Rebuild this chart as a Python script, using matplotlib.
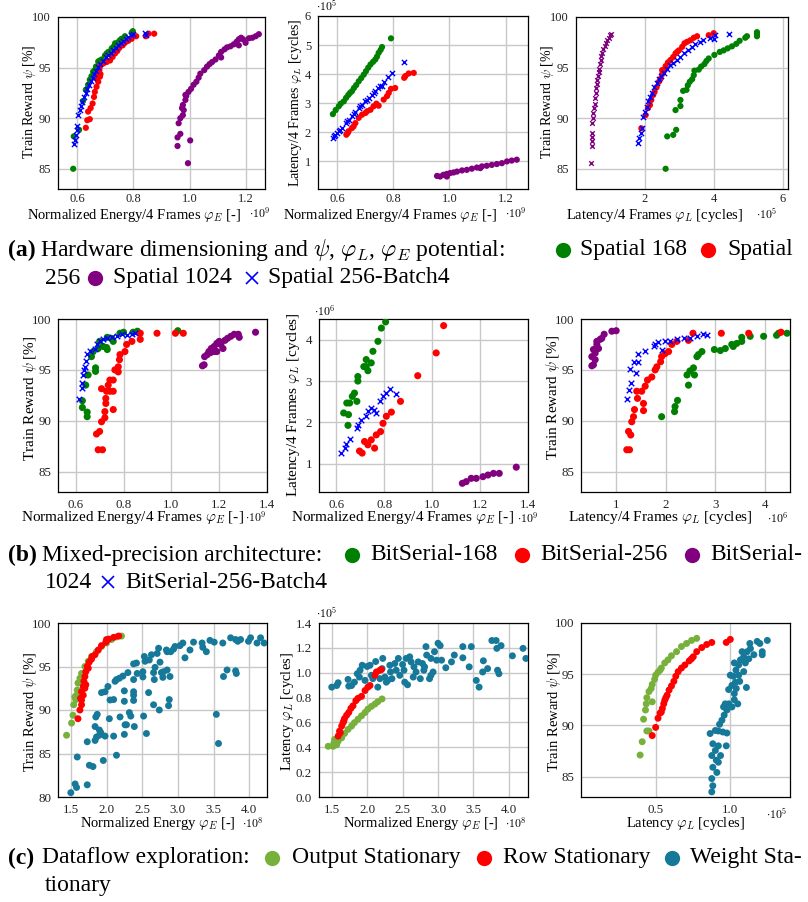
import matplotlib
matplotlib.use("Agg")
import matplotlib.pyplot as plt
from matplotlib.lines import Line2D
from matplotlib.ticker import FormatStrFormatter

plt.rcParams["font.family"] = ["Liberation Serif", "DejaVu Serif"]
plt.rcParams["mathtext.fontset"] = "cm"

W, H = 808, 902

# ---------------- (a) hardware dimensioning ----------------
# reward [%] vs normalized energy [1e9]
A1_S168 = [(0.586, 85.0), (0.588, 88.2), (0.607, 88.85), (0.621, 91.7), (0.631, 92.8), (0.639, 93.3),
           (0.645, 93.8), (0.651, 94.15), (0.657, 94.6), (0.663, 94.75), (0.667, 95.1), (0.675, 95.6),
           (0.681, 95.7), (0.687, 95.8), (0.699, 96.2), (0.705, 96.4), (0.711, 96.55), (0.723, 96.9),
           (0.729, 97.05), (0.735, 97.4), (0.746, 97.5), (0.752, 97.7), (0.758, 97.85), (0.77, 98.1),
           (0.794, 98.45), (0.798, 98.6)]
A1_S256 = [(0.631, 89.05), (0.636, 89.8), (0.645, 89.9), (0.639, 90.65), (0.648, 91.0), (0.655, 91.45),
           (0.66, 92.1), (0.663, 92.6), (0.669, 93.1), (0.675, 93.6), (0.669, 93.9), (0.681, 94.1),
           (0.673, 94.35), (0.683, 94.35), (0.679, 94.75), (0.681, 95.1), (0.693, 95.4), (0.705, 95.55),
           (0.717, 95.7), (0.726, 96.05), (0.735, 96.4), (0.743, 96.65), (0.75, 96.95), (0.762, 97.2),
           (0.77, 97.45), (0.782, 97.65), (0.794, 97.85), (0.81, 98.1), (0.844, 98.1), (0.854, 98.35),
           (0.874, 98.35)]
A1_S1024 = [(0.994, 85.55), (0.957, 87.25), (1.002, 87.8), (0.957, 88.1), (0.967, 88.45), (0.961, 89.5),
            (0.967, 90.0), (0.976, 90.3), (0.979, 90.8), (0.973, 91.0), (0.976, 91.3), (0.985, 91.8),
            (0.988, 92.2), (0.985, 92.3), (0.996, 92.6), (1.005, 92.9), (1.014, 93.3), (1.024, 93.6),
            (1.032, 94.0), (1.038, 94.4), (1.052, 94.75), (1.062, 95.1), (1.071, 95.35), (1.08, 95.55),
            (1.092, 95.8), (1.112, 96.0), (1.104, 96.2), (1.112, 96.55), (1.124, 96.8), (1.133, 97.0),
            (1.145, 97.1), (1.157, 97.3), (1.175, 97.2), (1.167, 97.55), (1.175, 97.8), (1.183, 97.95),
            (1.19, 97.8), (1.199, 97.45), (1.211, 97.9), (1.223, 97.95), (1.235, 98.1), (1.246, 98.3)]
A1_B4 = [(0.588, 87.45), (0.592, 87.85), (0.595, 88.35), (0.6, 88.85), (0.598, 89.2), (0.604, 90.3),
         (0.61, 90.8), (0.615, 91.2), (0.619, 91.6), (0.624, 92.05), (0.631, 92.45), (0.636, 92.85),
         (0.643, 93.25), (0.648, 93.7), (0.655, 94.0), (0.66, 94.35), (0.667, 94.7), (0.675, 95.1),
         (0.683, 95.35), (0.693, 95.65), (0.702, 96.0), (0.711, 96.2), (0.719, 96.45), (0.729, 96.7),
         (0.738, 96.95), (0.746, 97.2), (0.755, 97.45), (0.764, 97.65), (0.774, 97.85), (0.782, 98.05),
         (0.79, 98.2), (0.798, 98.35), (0.842, 98.4), (0.845, 98.2)]

# latency [1e5 cycles] vs normalized energy [1e9]
A2_S168 = [(0.585, 2.62), (0.595, 2.76), (0.606, 2.89), (0.613, 2.98), (0.624, 3.06), (0.632, 3.18),
           (0.64, 3.28), (0.646, 3.35), (0.653, 3.41), (0.66, 3.52), (0.668, 3.62), (0.677, 3.75),
           (0.686, 3.86), (0.695, 3.98), (0.703, 4.1), (0.711, 4.22), (0.719, 4.33), (0.728, 4.42),
           (0.736, 4.5), (0.742, 4.6), (0.748, 4.73), (0.755, 4.83), (0.76, 4.93), (0.792, 5.23)]
A2_S256 = [(0.633, 1.91), (0.638, 1.97), (0.641, 2.03), (0.653, 2.14), (0.659, 2.2), (0.665, 2.31),
           (0.677, 2.49), (0.689, 2.6), (0.701, 2.66), (0.707, 2.72), (0.719, 2.77), (0.73, 2.89),
           (0.74, 2.98), (0.748, 2.91), (0.766, 3.12), (0.778, 3.24), (0.784, 3.35), (0.792, 3.49),
           (0.807, 3.52), (0.839, 3.87), (0.843, 3.93), (0.855, 4.02), (0.873, 4.04)]
A2_S1024 = [(0.956, 0.49), (0.967, 0.47), (0.979, 0.53), (0.991, 0.47), (0.991, 0.56), (1.003, 0.59),
            (1.015, 0.61), (1.027, 0.64), (1.045, 0.68), (1.062, 0.7), (1.08, 0.74), (1.098, 0.78),
            (1.11, 0.76), (1.116, 0.82), (1.133, 0.84), (1.151, 0.87), (1.169, 0.9), (1.187, 0.93),
            (1.205, 0.99), (1.222, 1.02), (1.24, 1.05)]
A2_B4 = [(0.586, 1.79), (0.588, 1.85), (0.594, 1.91), (0.6, 1.97), (0.606, 2.03), (0.612, 2.08),
         (0.618, 2.14), (0.63, 2.31), (0.636, 2.37), (0.641, 2.43), (0.653, 2.57), (0.659, 2.62),
         (0.665, 2.68), (0.677, 2.83), (0.683, 2.89), (0.689, 2.95), (0.701, 3.06), (0.707, 3.12),
         (0.713, 3.18), (0.724, 3.29), (0.73, 3.35), (0.736, 3.41), (0.745, 3.52), (0.754, 3.6),
         (0.76, 3.58), (0.766, 3.72), (0.78, 3.9), (0.796, 4.02), (0.837, 4.42)]

# reward [%] vs latency [1e5 cycles]
A3_S168 = [(2.6, 85.0), (2.646, 88.2), (2.82, 88.35), (2.906, 88.85), (2.887, 90.8), (3.03, 91.2),
           (3.03, 91.8), (3.108, 92.7), (3.205, 92.8), (3.243, 93.25), (3.3, 93.6), (3.37, 93.85),
           (3.417, 94.25), (3.436, 94.7), (3.56, 94.8), (3.63, 95.1), (3.725, 95.35), (3.783, 95.65),
           (3.85, 95.9), (4.014, 96.25), (4.17, 96.55), (4.284, 96.7), (4.4, 96.9), (4.525, 97.1),
           (4.65, 97.35), (4.747, 97.65), (4.91, 97.95), (4.96, 98.1), (5.25, 98.1), (5.25, 98.35),
           (5.25, 98.5)]
A3_S256 = [(1.894, 89.0), (2.02, 90.3), (2.087, 91.0), (2.145, 91.3), (2.183, 91.8), (2.24, 92.3),
           (2.28, 92.6), (2.337, 93.05), (2.405, 93.6), (2.453, 93.9), (2.5, 94.35), (2.5, 94.75),
           (2.55, 94.75), (2.6, 95.15), (2.665, 95.5), (2.74, 95.75), (2.82, 96.05), (2.887, 96.4),
           (2.935, 96.55), (2.983, 96.7), (3.08, 97.05), (3.147, 97.4), (3.224, 97.55), (3.32, 97.7),
           (3.417, 97.95), (3.513, 98.1), (3.85, 98.2), (3.995, 98.4)]
A3_S1024 = [(0.43, 85.55), (0.458, 87.25), (0.477, 87.7), (0.458, 88.1), (0.477, 88.5), (0.477, 89.55),
            (0.496, 90.0), (0.506, 90.5), (0.525, 91.0), (0.545, 91.45), (0.554, 91.95), (0.573, 92.45),
            (0.593, 92.95), (0.602, 93.35), (0.622, 93.75), (0.641, 94.15), (0.66, 94.6), (0.68, 94.9),
            (0.699, 95.35), (0.718, 95.75), (0.737, 96.15), (0.766, 96.45), (0.795, 96.8), (0.834, 97.1),
            (0.872, 97.45), (0.911, 97.7), (0.949, 97.95), (0.988, 98.2), (1.007, 98.35)]
A3_B4 = [(1.8, 87.5), (1.83, 88.0), (1.875, 88.5), (1.92, 89.0), (1.95, 90.15), (1.99, 90.65),
         (2.05, 91.15), (2.087, 91.65), (2.145, 92.05), (2.212, 92.5), (2.26, 93.05), (2.337, 93.45),
         (2.405, 93.85), (2.472, 94.15), (2.55, 94.5), (2.627, 94.9), (2.723, 95.25), (2.82, 95.45),
         (2.935, 95.75), (3.03, 96.05), (3.128, 96.4), (3.243, 96.7), (3.369, 97.05), (3.465, 97.3),
         (3.59, 97.55), (3.687, 97.75), (3.9, 97.95), (4.0, 97.85), (4.024, 98.2), (4.43, 98.35)]

# ---------------- (b) mixed-precision architecture ----------------
B1_BS168 = [(0.628, 91.97), (0.628, 91.3), (0.648, 90.85), (0.648, 90.4), (0.642, 93.5), (0.652, 94.5),
            (0.683, 94.85), (0.683, 95.2), (0.666, 96.3), (0.673, 96.8), (0.694, 97.1), (0.70, 97.8),
            (0.715, 97.3), (0.729, 97.2), (0.732, 97.0), (0.732, 98.2), (0.75, 98.1), (0.757, 97.8),
            (0.785, 98.6), (0.8, 98.7), (0.84, 98.7), (0.858, 98.8), (1.027, 98.85)]
B1_BS256 = [(0.694, 87.15), (0.712, 87.15), (0.687, 88.7), (0.70, 88.95), (0.708, 89.9), (0.722, 90.3),
            (0.722, 90.9), (0.757, 91.1), (0.726, 91.7), (0.726, 92.2), (0.708, 93.15), (0.729, 92.9),
            (0.743, 92.9), (0.757, 92.9), (0.736, 93.5), (0.743, 94.0), (0.757, 94.0), (0.764, 95.0),
            (0.778, 94.8), (0.778, 95.3), (0.783, 96.0), (0.785, 96.5), (0.806, 96.8), (0.813, 97.5),
            (0.835, 97.8), (0.87, 98.0), (0.87, 98.6), (0.94, 98.6), (1.017, 98.6), (1.05, 98.6)]
B1_BS1024 = [(1.13, 95.4), (1.137, 95.5), (1.139, 96.3), (1.15, 96.5), (1.157, 96.8), (1.164, 96.7),
             (1.167, 97.1), (1.179, 96.8), (1.19, 96.8), (1.179, 97.3), (1.19, 97.6), (1.2, 97.8),
             (1.207, 97.5), (1.216, 97.1), (1.224, 97.9), (1.235, 98.1), (1.249, 98.3), (1.263, 98.5),
             (1.28, 98.5), (1.284, 98.2), (1.352, 98.7)]
B1_BS256B4 = [(0.614, 92.1), (0.628, 93.2), (0.628, 93.7), (0.631, 94.5), (0.634, 95.0), (0.638, 95.3),
              (0.642, 95.9), (0.648, 96.6), (0.659, 96.9), (0.68, 97.1), (0.687, 97.5), (0.70, 97.8),
              (0.715, 98.0), (0.729, 98.1), (0.75, 98.2), (0.771, 98.3), (0.792, 98.5), (0.813, 98.4),
              (0.835, 98.5), (0.85, 98.6)]

B2_BS168 = [(0.649, 1.93), (0.651, 2.19), (0.631, 2.23), (0.644, 2.47), (0.656, 2.47), (0.667, 2.63),
            (0.676, 2.71), (0.686, 2.51), (0.69, 3.0), (0.69, 3.11), (0.715, 3.35), (0.725, 3.35),
            (0.725, 3.52), (0.732, 3.25), (0.746, 3.44), (0.753, 3.72), (0.774, 3.96), (0.788, 4.28),
            (0.806, 4.43)]
B2_BS256 = [(0.708, 1.26), (0.697, 1.31), (0.718, 1.54), (0.732, 1.46), (0.746, 1.58), (0.76, 1.38),
            (0.767, 1.70), (0.785, 1.78), (0.795, 1.98), (0.809, 2.15), (0.83, 2.25), (0.868, 2.51),
            (0.94, 3.13), (1.017, 3.68), (1.048, 4.34)]
B2_BS1024 = [(1.126, 0.53), (1.142, 0.57), (1.163, 0.65), (1.184, 0.65), (1.212, 0.69), (1.233, 0.73),
             (1.256, 0.77), (1.28, 0.77), (1.351, 0.92)]
B2_BS256B4 = [(0.621, 1.26), (0.635, 1.38), (0.642, 1.48), (0.656, 1.6), (0.686, 1.86), (0.69, 1.94),
              (0.704, 2.06), (0.725, 2.15), (0.732, 2.27), (0.746, 2.36), (0.756, 2.31), (0.764, 2.23),
              (0.781, 2.52), (0.795, 2.63), (0.809, 2.71), (0.825, 2.81), (0.85, 2.69)]

B3_BS168 = [(1.92, 90.4), (2.18, 90.9), (2.19, 91.4), (2.24, 92.0), (2.46, 93.5), (2.43, 94.5),
            (2.49, 94.9), (2.56, 95.2), (2.58, 94.5), (2.63, 96.3), (2.66, 96.5), (2.73, 96.8),
            (2.98, 97.0), (3.1, 96.9), (3.2, 97.1), (3.36, 97.3), (3.33, 97.5), (3.43, 97.6),
            (3.53, 97.8), (3.53, 98.2), (3.7, 98.3), (3.97, 98.3), (4.23, 98.4), (4.27, 98.6),
            (4.44, 98.6)]
B3_BS256 = [(1.22, 87.15), (1.275, 87.15), (1.255, 88.95), (1.3, 88.6), (1.32, 89.9), (1.355, 90.4),
            (1.375, 91.1), (1.435, 92.2), (1.42, 92.9), (1.52, 92.9), (1.556, 91.7), (1.556, 91.0),
            (1.59, 93.4), (1.636, 94.0), (1.723, 94.3), (1.79, 95.0), (1.824, 95.3), (1.9, 95.8),
            (1.92, 96.3), (1.99, 96.6), (2.06, 96.8), (2.125, 97.5), (2.226, 97.8), (2.46, 97.9),
            (2.55, 98.6), (3.12, 98.6), (3.67, 98.6), (4.32, 98.7)]
B3_BS1024 = [(0.518, 95.4), (0.55, 95.5), (0.518, 96.3), (0.585, 96.0), (0.55, 97.0), (0.585, 96.65),
             (0.618, 97.5), (0.618, 97.8), (0.652, 97.1), (0.685, 98.0), (0.718, 98.1), (0.765, 98.5),
             (0.92, 98.8), (1.007, 98.85)]
B3_BS256B4 = [(1.22, 92.1), (1.255, 93.0), (1.31, 93.7), (1.275, 95.1), (1.41, 94.7), (1.375, 95.8),
              (1.455, 95.8), (1.455, 96.6), (1.59, 96.9), (1.757, 97.3), (1.79, 97.5), (1.857, 97.7),
              (1.92, 97.0), (1.99, 97.8), (2.09, 97.8), (2.226, 98.0), (2.36, 98.1), (2.49, 98.1),
              (2.63, 98.3), (2.76, 98.5), (2.83, 98.4)]

# ---------------- (c) dataflow exploration ----------------
C1_OS = [(1.44, 87.1), (1.51, 88.5), (1.53, 89.4), (1.54, 90.6), (1.57, 91.2), (1.556, 91.5),
         (1.58, 91.7), (1.59, 92.3), (1.6, 93.1), (1.627, 93.65), (1.65, 94.2), (1.697, 95.0),
         (1.744, 95.6), (1.79, 96.15), (1.86, 96.7), (1.93, 97.3), (2.0, 97.7), (2.07, 98.1),
         (2.14, 98.4), (2.21, 98.5)]
C1_RS = [(1.6, 89.0), (1.627, 90.0), (1.65, 90.6), (1.65, 91.15), (1.636, 91.35), (1.674, 91.7),
         (1.65, 92.1), (1.697, 92.5), (1.674, 92.7), (1.71, 92.9), (1.683, 93.3), (1.697, 93.85),
         (1.71, 94.4), (1.744, 94.8), (1.73, 95.0), (1.758, 95.5), (1.79, 95.85), (1.80, 96.15),
         (1.838, 96.35), (1.885, 96.9), (1.93, 97.4), (1.99, 97.8), (2.0, 98.1), (2.03, 98.15),
         (2.1, 98.35), (2.17, 98.5)]
C1_WS = [(1.5, 80.5), (1.56, 81.5), (1.58, 81.1), (1.59, 84.6), (1.73, 81.4), (1.76, 83.65),
         (1.81, 83.5), (1.73, 86.35), (1.84, 86.5), (1.86, 86.9), (1.9, 87.1), (1.84, 88.1),
         (1.85, 89.2), (1.87, 89.5), (1.9, 87.7), (1.92, 87.4), (1.955, 84.2), (1.98, 87.0),
         (1.93, 92.0), (1.98, 92.1), (2.02, 92.7), (2.05, 91.15), (2.04, 89.0), (2.1, 87.0),
         (2.1, 91.2), (2.12, 93.3), (2.14, 93.5), (2.14, 84.8), (2.18, 93.65), (2.19, 89.2),
         (2.23, 93.9), (2.25, 91.0), (2.25, 92.2), (2.25, 87.2), (2.26, 88.3), (2.28, 88.3),
         (2.3, 94.3), (2.32, 89.7), (2.34, 89.3), (2.38, 95.3), (2.38, 93.5), (2.38, 92.1),
         (2.38, 91.7), (2.38, 91.1), (2.39, 88.1), (2.42, 95.4), (2.43, 94.2), (2.51, 94.4),
         (2.51, 93.8), (2.52, 89.3), (2.53, 96.15), (2.54, 95.6), (2.56, 87.3), (2.59, 92.0),
         (2.6, 95.75), (2.63, 96.35), (2.66, 94.3), (2.66, 90.6), (2.67, 93.5), (2.68, 94.9),
         (2.71, 96.5), (2.73, 97.1), (2.74, 90.0), (2.75, 95.5), (2.77, 94.3), (2.79, 93.75),
         (2.8, 94.4), (2.84, 96.9), (2.85, 96.7), (2.85, 94.6), (2.87, 90.5), (2.88, 91.2),
         (2.89, 93.85), (2.9, 96.7), (2.94, 97.0), (2.96, 97.3), (3.03, 97.4), (3.07, 97.7),
         (3.1, 96.0), (3.17, 96.9), (3.22, 97.8), (3.34, 97.7), (3.35, 97.2), (3.4, 96.7),
         (3.45, 98.0), (3.51, 97.8), (3.54, 89.5), (3.57, 86.15), (3.63, 97.7), (3.64, 93.85),
         (3.69, 94.6), (3.74, 98.3), (3.81, 98.1), (3.81, 94.5), (3.82, 94.2), (3.84, 97.9),
         (3.88, 98.1), (3.99, 97.9), (4.02, 98.3), (4.11, 97.7), (4.16, 98.3), (4.21, 97.7)]

C2_OS = [(1.45, 0.408), (1.52, 0.408), (1.53, 0.435), (1.54, 0.463), (1.57, 0.42), (1.59, 0.449),
         (1.64, 0.476), (1.68, 0.511), (1.73, 0.544), (1.78, 0.571), (1.82, 0.598), (1.87, 0.626),
         (1.92, 0.653), (1.97, 0.68), (2.01, 0.707), (2.06, 0.729), (2.11, 0.748), (2.15, 0.767),
         (2.21, 0.789)]
C2_RS = [(1.59, 0.49), (1.61, 0.53), (1.62, 0.517), (1.64, 0.571), (1.66, 0.598), (1.67, 0.612),
         (1.68, 0.631), (1.71, 0.658), (1.74, 0.68), (1.77, 0.713), (1.8, 0.734), (1.84, 0.775),
         (1.87, 0.794), (1.92, 0.81), (1.97, 0.857), (2.01, 0.884), (2.04, 0.897), (2.11, 0.979),
         (2.13, 1.006), (2.18, 1.02), (2.2, 1.025)]
C2_WS = [(1.5, 0.884), (1.57, 0.897), (1.59, 0.919), (1.73, 0.946), (1.74, 0.892), (1.78, 0.897),
         (1.82, 0.924), (1.86, 0.992), (1.89, 0.965), (1.9, 1.02), (1.93, 1.06), (1.97, 0.938),
         (2.0, 1.05), (2.04, 1.06), (2.06, 0.979), (2.08, 0.952), (2.12, 1.09), (2.15, 0.884),
         (2.18, 0.952), (2.21, 1.033), (2.22, 1.115), (2.25, 0.965), (2.27, 0.924), (2.29, 0.938),
         (2.32, 1.06), (2.33, 1.006), (2.35, 0.952), (2.39, 1.074), (2.41, 1.02), (2.44, 1.115),
         (2.46, 0.979), (2.5, 1.066), (2.52, 1.02), (2.53, 0.924), (2.55, 1.115), (2.57, 0.903),
         (2.6, 1.128), (2.62, 1.087), (2.65, 0.965), (2.66, 1.047), (2.69, 1.006), (2.72, 1.087),
         (2.75, 0.952), (2.78, 1.074), (2.8, 1.02), (2.81, 1.047), (2.83, 1.21), (2.84, 1.142),
         (2.88, 0.952), (2.9, 0.979), (2.9, 1.115), (2.93, 1.006), (2.95, 1.169), (2.98, 1.101),
         (3.0, 1.237), (3.03, 1.218), (3.05, 1.101), (3.11, 1.04), (3.19, 1.087), (3.23, 1.142),
         (3.35, 1.21), (3.35, 1.12), (3.44, 1.047), (3.47, 1.21), (3.54, 0.938), (3.58, 0.884),
         (3.63, 1.006), (3.64, 1.096), (3.7, 1.033), (3.76, 1.259), (3.82, 1.259), (3.83, 1.196),
         (3.84, 1.02), (3.86, 0.992), (3.89, 1.218), (4.05, 1.136), (4.2, 1.196), (4.24, 1.115)]

C3_OS = [(0.396, 87.1), (0.41, 88.4), (0.441, 89.45), (0.455, 89.45), (0.419, 90.6), (0.432, 91.5),
         (0.437, 92.1), (0.477, 92.3), (0.441, 92.7), (0.455, 93.3), (0.47, 93.6), (0.477, 94.0),
         (0.493, 94.5), (0.5, 94.9), (0.516, 95.2), (0.53, 95.4), (0.538, 95.6), (0.561, 96.1),
         (0.583, 96.4), (0.606, 96.8), (0.64, 97.2), (0.673, 97.7), (0.707, 98.0), (0.741, 98.3),
         (0.775, 98.5)]
C3_RS = [(0.477, 89.0), (0.5, 89.8), (0.516, 90.7), (0.53, 91.2), (0.538, 91.3), (0.545, 91.65),
         (0.554, 92.1), (0.561, 92.45), (0.568, 92.7), (0.577, 92.95), (0.59, 93.45), (0.606, 93.85),
         (0.622, 94.3), (0.635, 94.8), (0.651, 95.25), (0.673, 95.6), (0.696, 95.9), (0.725, 96.3),
         (0.74, 96.5), (0.752, 96.7), (0.775, 97.2), (0.809, 97.6), (0.842, 97.9), (0.876, 98.1),
         (0.973, 98.1), (1.0, 98.4)]
C3_WS = [(0.876, 83.5), (0.883, 84.1), (0.876, 84.8), (0.883, 85.9), (0.91, 85.4), (0.876, 87.05),
         (0.9, 87.55), (0.906, 86.6), (0.92, 86.4), (0.935, 87.05), (0.883, 88.2), (0.92, 88.0),
         (0.973, 88.0), (0.865, 89.2), (0.9, 89.5), (0.92, 89.45), (0.95, 89.35), (0.977, 89.25),
         (0.928, 90.1), (0.944, 90.5), (0.959, 91.0), (0.977, 91.5), (0.955, 91.8), (0.966, 92.1),
         (0.99, 92.1), (1.011, 91.8), (1.027, 92.5), (1.05, 92.1), (1.027, 93.1), (0.989, 93.5),
         (1.04, 93.6), (1.011, 93.9), (1.034, 94.2), (1.063, 94.3), (1.108, 93.7), (1.0, 94.9),
         (1.02, 94.8), (1.056, 94.9), (1.09, 95.25), (1.038, 95.4), (1.056, 95.9), (1.027, 96.1),
         (1.068, 96.4), (1.09, 96.7), (1.101, 96.1), (1.124, 96.5), (1.158, 96.9), (1.079, 97.2),
         (1.113, 97.2), (1.135, 97.5), (1.131, 98.0), (1.18, 98.2), (1.198, 98.0), (1.214, 97.2),
         (1.214, 96.9), (1.248, 98.3)]

GREEN, RED, PURPLE, BLUE = "#008000", "#ff0000", "#800080", "#0000ff"
OS_GREEN, WS_TEAL = "#78b03c", "#17799a"


def rect(l, t, r, b):
    return [l / W, 1 - b / H, (r - l) / W, (b - t) / H]


def fx(x):
    return x / W


def fy(y):
    return 1 - y / H


fig = plt.figure(figsize=(W / 100, H / 100), dpi=100)


def make_ax(box, xlim, ylim, xticks, yticks, xfmt=None, yfmt=None, fs=9.3, xpad=5):
    ax = fig.add_axes(rect(*box))
    ax.set_xlim(*xlim)
    ax.set_ylim(*ylim)
    ax.set_xticks(xticks)
    ax.set_yticks(yticks)
    if xfmt:
        ax.xaxis.set_major_formatter(FormatStrFormatter(xfmt))
    if yfmt:
        ax.yaxis.set_major_formatter(FormatStrFormatter(yfmt))
    ax.grid(True, color="#c8c8c8", lw=1.0)
    ax.set_axisbelow(True)
    ax.tick_params(length=0, labelsize=fs, pad=5, colors="#222222")
    ax.tick_params(axis="x", pad=xpad)
    for s in ax.spines.values():
        s.set_linewidth(0.9)
    return ax


def dots(ax, pts, color, s=18, marker="o"):
    xs = [p[0] for p in pts]
    ys = [p[1] for p in pts]
    if marker == "x":
        ax.scatter(xs, ys, s=s, marker="x", color=color, linewidths=1.0, zorder=3)
    else:
        ax.scatter(xs, ys, s=s, marker="o", color=color, edgecolors="none", zorder=3)


def ftext(x, y, s, size, **kw):
    fig.text(fx(x), fy(y), s, fontsize=size, **kw)


# ---- row (a)
ax = make_ax((58, 17, 265, 189), (0.532, 1.268), (83, 100), [0.6, 0.8, 1.0, 1.2], [85, 90, 95, 100], "%.1f", None, 9, 3)
dots(ax, A1_S168, GREEN, 20)
dots(ax, A1_S256, RED, 20)
dots(ax, A1_S1024, PURPLE, 20)
dots(ax, A1_B4, BLUE, 14, "x")

ax = make_ax((318, 16, 528, 189), (0.532, 1.28), (0.04, 6), [0.6, 0.8, 1.0, 1.2], [1, 2, 3, 4, 5, 6], "%.1f", None, 9, 3)
dots(ax, A2_S168, GREEN, 20)
dots(ax, A2_S256, RED, 20)
dots(ax, A2_S1024, PURPLE, 20)
dots(ax, A2_B4, BLUE, 14, "x")

ax = make_ax((576, 17, 788, 189), (0.0, 6.15), (83, 100), [2, 4, 6], [85, 90, 95, 100], None, None, 9, 3)
dots(ax, A3_S168, GREEN, 20)
dots(ax, A3_S256, RED, 20)
dots(ax, A3_S1024, PURPLE, 11, "x")
dots(ax, A3_B4, BLUE, 14, "x")

# ---- row (b)
ax = make_ax((58, 319, 267, 492), (0.526, 1.4), (83, 100), [0.6, 0.8, 1.0, 1.2, 1.4], [85, 90, 95, 100], "%.1f")
dots(ax, B1_BS168, GREEN, 26)
dots(ax, B1_BS256, RED, 26)
dots(ax, B1_BS1024, PURPLE, 26)
dots(ax, B1_BS256B4, BLUE, 16, "x")

ax = make_ax((319, 319, 528, 492), (0.528, 1.4), (0.32, 4.5), [0.6, 0.8, 1.0, 1.2, 1.4], [1, 2, 3, 4], "%.1f")
dots(ax, B2_BS168, GREEN, 26)
dots(ax, B2_BS256, RED, 26)
dots(ax, B2_BS1024, PURPLE, 26)
dots(ax, B2_BS256B4, BLUE, 16, "x")

ax = make_ax((581, 319, 790, 492), (0.3, 4.5), (83, 100), [1, 2, 3, 4], [85, 90, 95, 100])
dots(ax, B3_BS168, GREEN, 26)
dots(ax, B3_BS256, RED, 26)
dots(ax, B3_BS1024, PURPLE, 26)
dots(ax, B3_BS256B4, BLUE, 16, "x")

# ---- row (c)
ax = make_ax((58, 623, 267, 797), (1.32, 4.25), (80, 100), [1.5, 2.0, 2.5, 3.0, 3.5, 4.0], [80, 85, 90, 95, 100], "%.1f")
dots(ax, C1_WS, WS_TEAL, 25)
dots(ax, C1_OS, OS_GREEN, 25)
dots(ax, C1_RS, RED, 25)

ax = make_ax((319, 623, 528, 797), (1.32, 4.27), (0, 1.4), [1.5, 2.0, 2.5, 3.0, 3.5, 4.0],
             [0, 0.2, 0.4, 0.6, 0.8, 1.0, 1.2, 1.4], "%.1f", "%.1f")
dots(ax, C2_WS, WS_TEAL, 25)
dots(ax, C2_OS, OS_GREEN, 25)
dots(ax, C2_RS, RED, 25)

ax = make_ax((581, 623, 790, 797), (0.0, 1.4), (83, 100), [0.5, 1.0], [85, 90, 95, 100], "%.1f")
dots(ax, C3_WS, WS_TEAL, 25)
dots(ax, C3_OS, OS_GREEN, 25)
dots(ax, C3_RS, RED, 25)

# ---- axis labels and scale factors
reward = r"Train Reward $\psi$ [%]"
e4 = r"Normalized Energy/4 Frames $\varphi_E$ [-]"
l4 = r"Latency/4 Frames $\varphi_L$ [cycles]"

ftext(134, 216, e4, 10.5, ha="center", va="center")
ftext(390, 216, e4, 10.5, ha="center", va="center")
ftext(655, 216, l4, 10.5, ha="center", va="center")
ftext(260, 213, r"$\cdot10^{9}$", 8.5, ha="center", va="center")
ftext(516, 213, r"$\cdot10^{9}$", 8.5, ha="center", va="center")
ftext(767, 215, r"$\cdot10^{5}$", 8.5, ha="center", va="center")
ftext(327, 7, r"$\cdot10^{5}$", 8.5, ha="center", va="center")
ftext(30, 102, reward, 10, ha="center", va="center", rotation=90)
ftext(296, 103, l4, 10, ha="center", va="center", rotation=90)
ftext(547, 102, reward, 10, ha="center", va="center", rotation=90)

ftext(132, 518, e4, 11, ha="center", va="center")
ftext(402, 518, e4, 11, ha="center", va="center")
ftext(660, 518, l4, 11, ha="center", va="center")
ftext(256, 517, r"$\cdot10^{9}$", 8.5, ha="center", va="center")
ftext(528, 518, r"$\cdot10^{9}$", 8.5, ha="center", va="center")
ftext(778, 518, r"$\cdot10^{6}$", 8.5, ha="center", va="center")
ftext(325, 311, r"$\cdot10^{6}$", 8.5, ha="center", va="center")
ftext(30, 398, reward, 11, ha="center", va="center", rotation=90)
ftext(294, 405, l4, 11, ha="center", va="center", rotation=90)
ftext(553, 397, reward, 11, ha="center", va="center", rotation=90)

ftext(158, 823, r"Normalized Energy $\varphi_E$ [-]", 10.5, ha="center", va="center")
ftext(421, 823, r"Normalized Energy $\varphi_E$ [-]", 10.5, ha="center", va="center")
ftext(685, 823, r"Latency $\varphi_L$ [cycles]", 10.5, ha="center", va="center")
ftext(253, 823, r"$\cdot10^{8}$", 8.5, ha="center", va="center")
ftext(516, 823, r"$\cdot10^{8}$", 8.5, ha="center", va="center")
ftext(777, 815, r"$\cdot10^{5}$", 8.5, ha="center", va="center")
ftext(327, 614, r"$\cdot10^{5}$", 8.5, ha="center", va="center")
ftext(30, 712, reward, 10.5, ha="center", va="center", rotation=90)
ftext(288, 712, r"Latency $\varphi_L$ [cycles]", 10.5, ha="center", va="center", rotation=90)
ftext(554, 712, reward, 10.5, ha="center", va="center", rotation=90)

# ---- captions with inline legend keys
CAP = 17


def key(x, y, color, marker="o"):
    if marker == "x":
        fig.add_artist(Line2D([fx(x)], [fy(y)], marker="x", color=color, markersize=9, mew=1.2,
                              transform=fig.transFigure))
    else:
        fig.add_artist(Line2D([fx(x)], [fy(y)], marker="o", color=color, markersize=11, mec="none",
                              transform=fig.transFigure))


def cap(x, y, s, bold=False):
    ftext(x, y, s, CAP, ha="left", va="center", fontweight="bold" if bold else "normal")


cap(8, 250, "(a)", True)
cap(40, 250, r"Hardware dimensioning and $\psi$, $\varphi_L$, $\varphi_E$ potential:")
key(563, 250, GREEN)
cap(580, 250, "Spatial 168")
key(708, 250, RED)
cap(727, 250, "Spatial")
cap(45, 278, "256")
key(95, 278, PURPLE)
cap(113, 278, "Spatial 1024")
key(252, 278, BLUE, "x")
cap(268, 278, "Spatial 256-Batch4")

cap(8, 555, "(b)", True)
cap(42, 555, "Mixed-precision architecture:")
key(352, 555, GREEN)
cap(370, 555, "BitSerial-168")
key(522, 555, RED)
cap(540, 555, "BitSerial-256")
key(692, 555, PURPLE)
cap(710, 555, "BitSerial-")
cap(45, 582, "1024")
key(108, 582, BLUE, "x")
cap(125, 582, "BitSerial-256-Batch4")

cap(8, 858, "(c)", True)
cap(42, 858, "Dataflow exploration:")
key(272, 858, OS_GREEN)
cap(292, 858, "Output Stationary")
key(484, 858, RED)
cap(503, 858, "Row Stationary")
key(672, 858, WS_TEAL)
cap(690, 858, "Weight Sta-")
cap(45, 885, "tionary")

fig.savefig("out.png", dpi=100)
